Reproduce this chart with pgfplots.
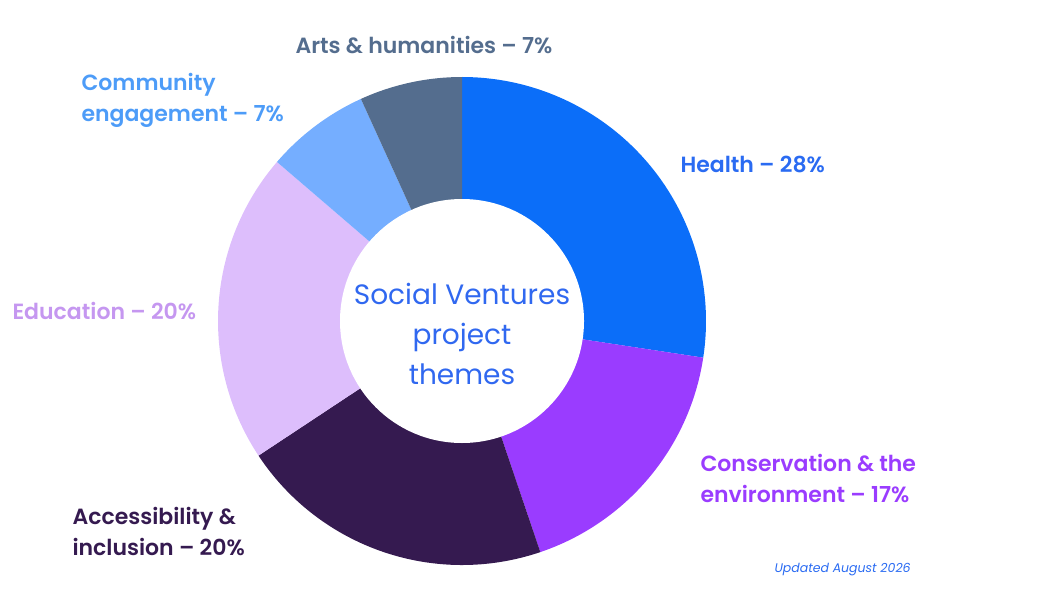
\documentclass[border=0pt]{standalone}
\usepackage{pgfplots}
\usepackage{pgfplotstable}
\pgfplotsset{compat=1.18}
\usepackage{fontspec}
\setmainfont{Poppins}
\newfontfamily\semi{Poppins SemiBold}

\definecolor{chealth}{HTML}{0B6EF9}
\definecolor{ccons}{HTML}{9A3CFF}
\definecolor{cacc}{HTML}{351A50}
\definecolor{cedu}{HTML}{DDBEFC}
\definecolor{ccomm}{HTML}{75AEFF}
\definecolor{carts}{HTML}{546D8E}
\definecolor{ledu}{HTML}{C597F0}
\definecolor{lcomm}{HTML}{4D9CF8}
\definecolor{lhealth}{HTML}{2A6BF2}
\definecolor{ctext}{HTML}{3068F0}

% share of each theme, clockwise from 12 o'clock
\pgfplotstableread{
theme value color
Health 27.4 chealth
Conservation 17.4 ccons
Accessibility 20.9 cacc
Education 20.6 cedu
Community 6.9 ccomm
Arts 6.8 carts
}\pie

\begin{document}
\begin{tikzpicture}
\begin{axis}[
  x=1pt, y=1pt,
  xmin=0, xmax=1048, ymin=0, ymax=590,
  hide axis,
  clip=false,
]
\path (axis cs:0,0) rectangle (axis cs:1048,590);
\gdef\a{90}
\pgfplotsforeachungrouped \i in {0,...,5}{
  \pgfplotstablegetelem{\i}{value}\of\pie \let\v\pgfplotsretval
  \pgfplotstablegetelem{\i}{color}\of\pie \let\c\pgfplotsretval
  \pgfmathsetmacro\b{\a - 3.6*\v}
  \edef\temp{\noexpand\fill[\c] (axis cs:462,269) ++(\a:244pt)
    arc[start angle=\a, end angle=\b, radius=244pt]
    -- (axis cs:462,269) -- cycle;}
  \temp
  \global\let\a\b
}
\fill[white] (axis cs:462,269) circle[radius=122pt];

\node[ctext, align=center, font=\fontsize{28}{40}\selectfont] at (axis cs:462,256)
  {Social Ventures\\project\\themes};

\begin{scope}[every node/.style={anchor=west, align=left, font=\semi\fontsize{22}{31}\selectfont}]
\node[carts] at (axis cs:292,545) {Arts \& humanities – 7\%};
\node[lcomm] at (axis cs:78,490) {Community\\engagement – 7\%};
\node[lhealth] at (axis cs:677,426) {Health – 28\%};
\node[ledu] at (axis cs:9,279) {Education – 20\%};
\node[ccons] at (axis cs:697,111) {Conservation \& the\\environment – 17\%};
\node[cacc] at (axis cs:69,58) {Accessibility \&\\inclusion – 20\%};
\end{scope}
\node[lhealth, anchor=west, font=\itshape\fontsize{12.5}{14}\selectfont] at (axis cs:771,20) {Updated August 2026};
\end{axis}
\end{tikzpicture}
\end{document}
